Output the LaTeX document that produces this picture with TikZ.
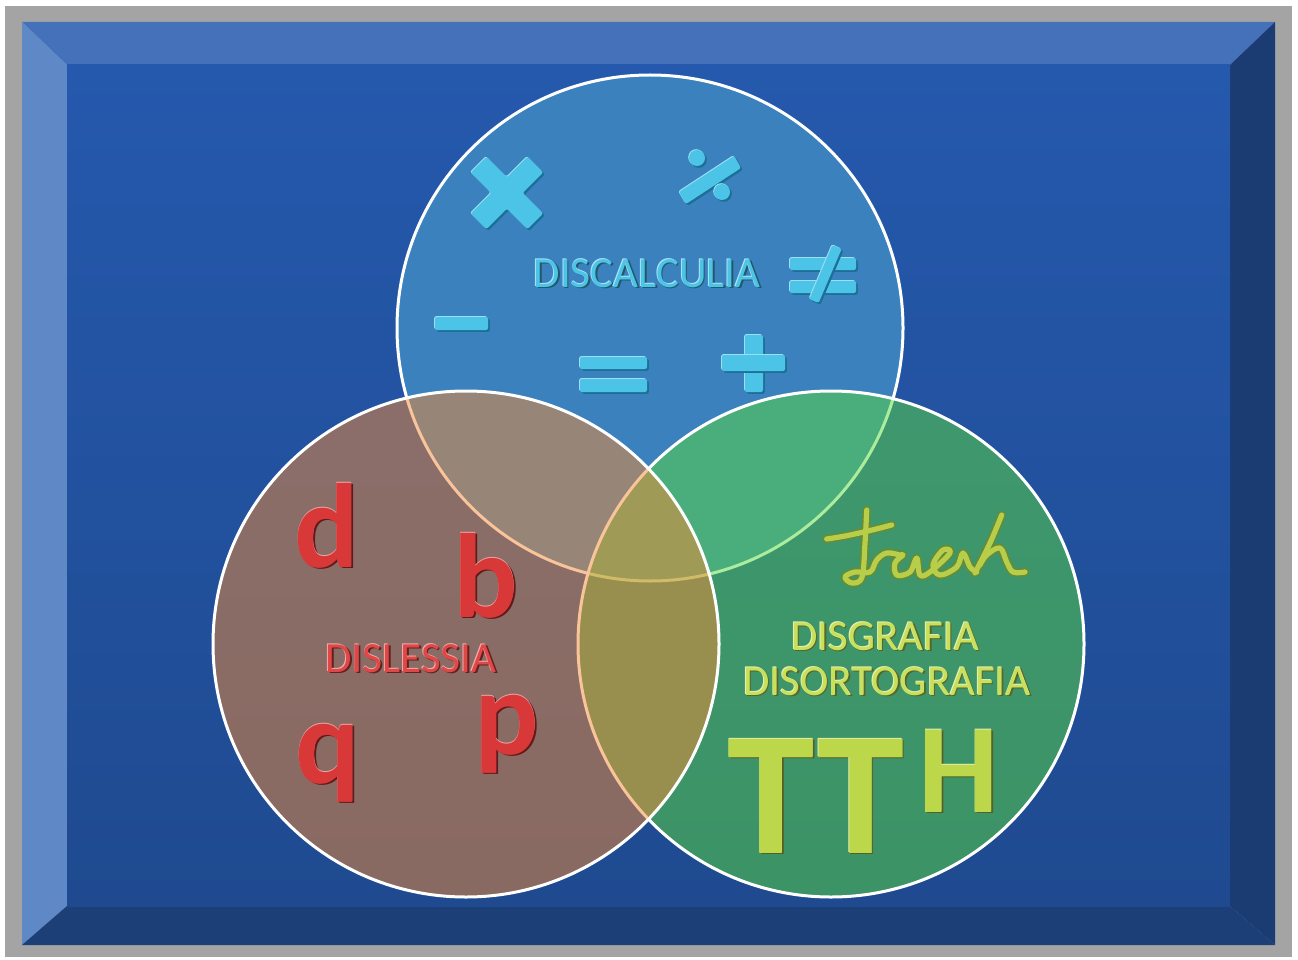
\documentclass[tikz,border=0pt]{standalone}
\usepackage{fontspec}
\setmainfont{Carlito}
\definecolor{framegray}{HTML}{A4A4A4}
\definecolor{bevtop}{HTML}{4571BA}
\definecolor{bevleft}{HTML}{5F88C6}
\definecolor{bevright}{HTML}{1B3C72}
\definecolor{bevbot}{HTML}{1D3F77}
\definecolor{bgtop}{HTML}{2559AD}
\definecolor{bgbot}{HTML}{1F4A90}
\definecolor{circT}{HTML}{3A81BD}
\definecolor{circR}{HTML}{5ADC3C}
\definecolor{circL}{HTML}{F48A34}
\definecolor{symcyan}{HTML}{4CC4E8}
\definecolor{symdark}{HTML}{1C6F96}
\definecolor{lblred}{HTML}{E04848}
\definecolor{letred}{HTML}{D83838}
\definecolor{lblgreen}{HTML}{C8E05A}
\definecolor{ttgreen}{HTML}{BCD84A}
\definecolor{handcol}{HTML}{B6CE4C}
\definecolor{handdark}{HTML}{6F8A2A}

% embossed text: name, position, size, colour, text
\newcommand\embtext[5]{%
  \node[font=\fontsize{#3}{#3}\selectfont, text=#4!45!black, anchor=base,
        inner sep=0, xshift=1.6pt, yshift=-1.6pt] (#1-s) at #2 {#5};
  \node[font=\fontsize{#3}{#3}\selectfont, text=#4!45!white, anchor=base,
        inner sep=0, xshift=-0.7pt, yshift=0.7pt] (#1-h) at #2 {#5};
  \node[font=\fontsize{#3}{#3}\selectfont, text=#4, anchor=base,
        inner sep=0] (#1) at #2 {#5};}
% embossed cyan symbol shape
\newcommand\embshape[1]{%
  \fill[symdark, shift={(1.8,1.8)}, rounded corners=2] #1;
  \fill[symcyan!55!white, shift={(-0.8,-0.8)}, rounded corners=2] #1;
  \fill[symcyan, rounded corners=2] #1;}

\tikzset{
  venn/.style={circle, inner sep=0, minimum size=506pt, draw=white, line width=3pt},
  hand/.style={line width=#1, line cap=round, line join=round},
}

\begin{document}
\begin{tikzpicture}[x=1pt,y=-1pt]
\useasboundingbox (0,0) rectangle (1298,960);
\fill[white] (0,0) rectangle (1298,960);

% gray surround and bevelled blue panel
\fill[framegray] (5,6) rectangle (1292,957);
\fill[bevtop] (22,22) -- (1275,22) -- (1230,65) -- (67,65) -- cycle;
\fill[bevleft] (22,22) -- (67,65) -- (67,906) -- (22,945) -- cycle;
\fill[bevright] (1275,22) -- (1275,945) -- (1230,906) -- (1230,65) -- cycle;
\fill[bevbot] (22,945) -- (67,906) -- (1230,906) -- (1275,945) -- cycle;
\shade[top color=bgtop, bottom color=bgbot] (67,65) rectangle (1230,906);

% the three sets
\node[venn, fill=circT] (T) at (650,328) {};
\node[venn, fill=circR, fill opacity=0.5, draw opacity=1] (R) at (831,644) {};
\node[venn, fill=circL, fill opacity=0.5, draw opacity=1] (L) at (466,644) {};

% arithmetic signs
\embshape{(543.1,213.5) -- (527.5,229.1) -- (507,208.6) -- (486.5,229.1) -- (470.9,213.5) -- (491.4,193) -- (470.9,172.5) -- (486.5,156.9) -- (507,177.4) -- (527.5,156.9) -- (543.1,172.5) -- (522.6,193) -- cycle}
\embshape{(686,204) -- (741,168) -- (734,156) -- (679,192) -- cycle}
\embshape{(697,158) circle[radius=8]}
\embshape{(722,192) circle[radius=8]}
\embshape{(790,258) rectangle (856,270)}
\embshape{(790,281) rectangle (856,293)}
\embshape{(841.6,249) -- (818.6,303) -- (809.4,299) -- (832.4,245) -- cycle}
\embshape{(435,317) rectangle (488,330)}
\embshape{(580,357) rectangle (647,369)}
\embshape{(580,379) rectangle (647,392)}
\embshape{(745,335) rectangle (763,392)}
\embshape{(722,355) rectangle (785,371)}

% labels
\embtext{discalc}{(647,287)}{43}{symcyan}{DISCALCULIA}
\embtext{dislex}{(411,672)}{43}{lblred}{DISLESSIA}
\embtext{disgraf}{(885,650)}{43}{lblgreen}{DISGRAFIA}
\embtext{disort}{(887,695)}{43}{lblgreen}{DISORTOGRAFIA}

% mirrored letters
\embtext{letd}{(327,567)}{120}{letred}{\bfseries d}
\embtext{letb}{(486,617)}{120}{letred}{\bfseries b}
\embtext{letq}{(328,783)}{120}{letred}{\bfseries q}
\embtext{letp}{(507,754)}{120}{letred}{\bfseries p}

% letters of uneven size
\embtext{tt}{(816,853)}{176}{ttgreen}{\bfseries TT}
\embtext{hsup}{(959,812)}{127}{ttgreen}{\bfseries H}

% handwritten scribble
\foreach \w/\c in {8/handdark, 5.2/handcol}{
  \draw[hand=\w pt, \c] plot[smooth, tension=0.6] coordinates {(826.7,539) (845,536) (868,531) (891.7,525)};
  \draw[hand=\w pt, \c] plot[smooth, tension=0.6] coordinates {(866.7,510) (865,543) (862,577) (852,583) (845,577) (855,572) (870,572) (876.7,560) (886.7,553) (900,555)
    (903,555) (895,563) (896.7,575) (910,572) (916.7,558) (920,575)
    (930,572) (950,553) (943,550) (933,565) (940,575) (956.7,567)
    (963,553) (970,567) (976.7,572)};
  \draw[hand=\w pt, \c] plot[smooth, tension=0.6] coordinates {(1001.7,515) (990,543) (975,573)};
  \draw[hand=\w pt, \c] plot[smooth, tension=0.6] coordinates {(980,565) (986.7,555) (1000,548) (1006.7,562) (1013,572) (1025,572)};
}
\end{tikzpicture}
\end{document}
